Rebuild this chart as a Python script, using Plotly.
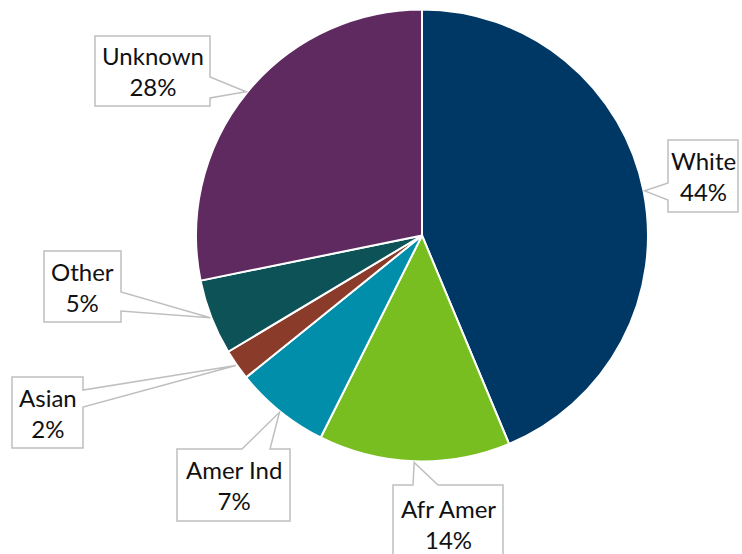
import math
import plotly.graph_objects as go

# ---- data ----
categories = ["White", "Afr Amer", "Amer Ind", "Asian", "Other", "Unknown"]
shares = [43.7, 13.7, 6.8, 2.2, 5.4, 28.2]
colors = ["#003865", "#78BE20", "#008EAA", "#8A3B2A", "#0D5257", "#5E2A60"]

# ---- layout (pixel geometry of the 742x554 canvas) ----
W, H = 742, 554
CX, CY, R = 422, 235.5, 226
# callout boxes: x0, y0, x1, y1, side of wedge, wedge base start, wedge base end
boxes = {
    "White":    (668, 140, 738, 212, "left", 183, 200),
    "Afr Amer": (393, 485, 503, 563, "top", 413, 438),
    "Amer Ind": (177, 449, 290, 521, "top", 242, 270),
    "Asian":    (12, 377, 83, 448, "right", 390, 407),
    "Other":    (44, 251, 121, 322, "right", 292, 311),
    "Unknown":  (95, 36, 210, 106, "right", 77, 98),
}


def px(x):
    return x / W


def py(y):
    return 1 - y / H


fig = go.Figure(go.Pie(
    labels=categories, values=shares, sort=False, direction="clockwise",
    rotation=0, textinfo="none", hoverinfo="label+percent",
    marker=dict(colors=colors, line=dict(color="white", width=2)),
    domain=dict(x=[px(CX - R), px(CX + R)], y=[py(CY + R), py(CY - R)]),
    showlegend=False,
))

shapes = []
annotations = []
total = sum(shares)
cum = 0.0
for cat, val in zip(categories, shares):
    mid = (cum + val / 2) / total * 2 * math.pi
    cum += val
    tx = CX + R * 1.005 * math.sin(mid)
    ty = CY - R * 1.005 * math.cos(mid)
    x0, y0, x1, y1, side, a, b = boxes[cat]
    if side == "right":
        pts = [(x0, y0), (x1, y0), (x1, a), (tx, ty), (x1, b), (x1, y1), (x0, y1)]
    elif side == "left":
        pts = [(x0, y0), (x1, y0), (x1, y1), (x0, y1), (x0, b), (tx, ty), (x0, a)]
    else:  # top
        pts = [(x0, y0), (a, y0), (tx, ty), (b, y0), (x1, y0), (x1, y1), (x0, y1)]
    path = "M " + " L ".join(f"{px(x):.5f},{py(y):.5f}" for x, y in pts) + " Z"
    shapes.append(dict(type="path", xref="paper", yref="paper", path=path,
                       fillcolor="white", line=dict(color="#BFBFBF", width=1.5)))
    annotations.append(dict(
        xref="paper", yref="paper", x=px((x0 + x1) / 2), y=py((y0 + y1) / 2),
        xanchor="center", yanchor="middle",
        text=f"{cat}<br>{round(val)}%", showarrow=False, align="center",
        font=dict(family="Lato, Open Sans, sans-serif", size=24, color="#111111"),
    ))

fig.update_layout(
    width=W, height=H, margin=dict(l=0, r=0, t=0, b=0),
    paper_bgcolor="white", plot_bgcolor="white",
    shapes=shapes, annotations=annotations,
)
fig.write_html("out.html", config={"displayModeBar": False},
               post_script="document.body.style.margin='0px';")
